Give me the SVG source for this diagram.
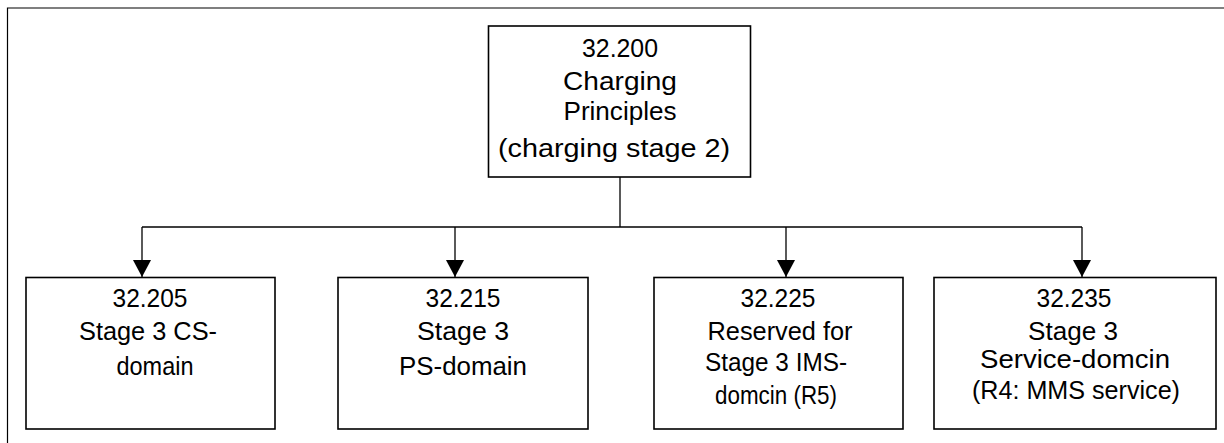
<svg xmlns="http://www.w3.org/2000/svg" width="1224" height="443" viewBox="0 0 1224 443">
<style>
.frame{stroke:#000;stroke-width:1.2;fill:none}
.box{fill:#fff;stroke:#000;stroke-width:1.6}
.conn{stroke:#000;stroke-width:1.3;fill:none}
text{font-family:"Liberation Sans",Arial,sans-serif;font-size:26px;fill:#000;text-anchor:middle}
</style>
<defs>
<marker id="arr" markerUnits="userSpaceOnUse" markerWidth="17" markerHeight="18" refX="17" refY="9" orient="auto" viewBox="0 0 17 18">
<path d="M0,0 L17,9 L0,18 z" fill="#000"/>
</marker>
</defs>
<rect width="1224" height="443" fill="#fff"/>
<g id="frame">
<path class="frame" d="M7.5,443 V8 H1224"/>
</g>
<g id="connectors">
<path class="conn" d="M620,177 V227"/>
<path class="conn" d="M142,227 H1082"/>
<path class="conn" d="M142,227 V277" marker-end="url(#arr)"/>
<path class="conn" d="M455,227 V277" marker-end="url(#arr)"/>
<path class="conn" d="M786,227 V277" marker-end="url(#arr)"/>
<path class="conn" d="M1082,227 V277" marker-end="url(#arr)"/>
</g>
<g id="n32200">
<rect class="box" x="488.5" y="26" width="262" height="151"/>
<text x="620" y="56.5" textLength="76" lengthAdjust="spacingAndGlyphs">32.200</text>
<text x="620" y="90" textLength="114" lengthAdjust="spacingAndGlyphs">Charging</text>
<text x="620" y="120" textLength="113" lengthAdjust="spacingAndGlyphs">Principles</text>
<text x="614" y="157" textLength="232" lengthAdjust="spacingAndGlyphs">(charging stage 2)</text>
</g>
<g id="n32205">
<rect class="box" x="26" y="277.5" width="249" height="151.5"/>
<text x="150" y="307" textLength="75" lengthAdjust="spacingAndGlyphs">32.205</text>
<text x="148" y="340" textLength="138" lengthAdjust="spacingAndGlyphs">Stage 3 CS-</text>
<text x="155" y="375" textLength="77" lengthAdjust="spacingAndGlyphs">domain</text>
</g>
<g id="n32215">
<rect class="box" x="338" y="277.5" width="250" height="151.5"/>
<text x="463" y="307" textLength="75" lengthAdjust="spacingAndGlyphs">32.215</text>
<text x="463" y="340" textLength="92" lengthAdjust="spacingAndGlyphs">Stage 3</text>
<text x="463" y="375" textLength="128" lengthAdjust="spacingAndGlyphs">PS-domain</text>
</g>
<g id="n32225">
<rect class="box" x="654" y="277.5" width="249" height="151.5"/>
<text x="778" y="307" textLength="75" lengthAdjust="spacingAndGlyphs">32.225</text>
<text x="780" y="340" textLength="145" lengthAdjust="spacingAndGlyphs">Reserved for</text>
<text x="776" y="371" textLength="142" lengthAdjust="spacingAndGlyphs">Stage 3 IMS-</text>
<text x="776" y="404" textLength="122" lengthAdjust="spacingAndGlyphs">domcin (R5)</text>
</g>
<g id="n32235">
<rect class="box" x="934" y="277.5" width="282" height="151.5"/>
<text x="1074" y="307" textLength="75" lengthAdjust="spacingAndGlyphs">32.235</text>
<text x="1073" y="340" textLength="90" lengthAdjust="spacingAndGlyphs">Stage 3</text>
<text x="1075" y="368" textLength="190" lengthAdjust="spacingAndGlyphs">Service-domcin</text>
<text x="1076" y="399" textLength="208" lengthAdjust="spacingAndGlyphs">(R4: MMS service)</text>
</g>
</svg>
